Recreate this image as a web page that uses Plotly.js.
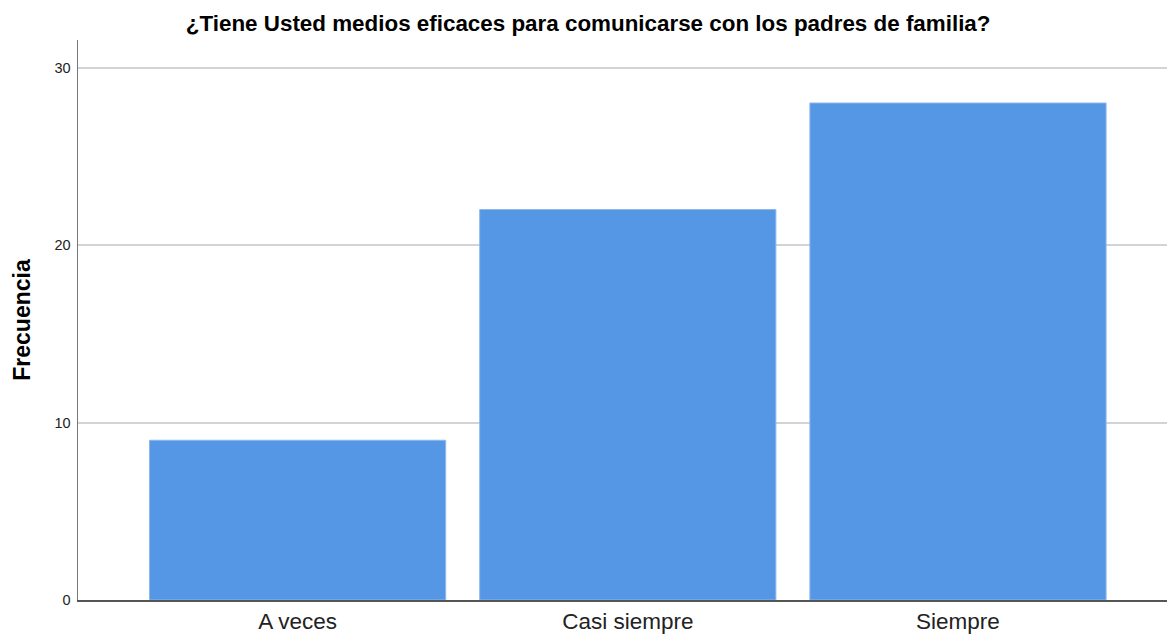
<!DOCTYPE html>
<html>
<head>
<meta charset="utf-8">
<script src="https://cdn.plot.ly/plotly-3.0.1.min.js"></script>
<style>html,body{margin:0;padding:0;background:#fff;}#chart{width:1167px;height:635px;}</style>
</head>
<body>
<div id="chart"></div>
<script>
const categories = ["A veces", "Casi siempre", "Siempre"];
const frecuencia = [9, 22, 28];
const yTicks = [0, 10, 20, 30];
const chartTitle = "¿Tiene Usted medios eficaces para comunicarse con los padres de familia?";
const yTitle = "Frecuencia";

const trace = {
  type: "bar",
  x: categories,
  y: frecuencia,
  marker: {color: "#5596E5", line: {color: "#8DB8EE", width: 1}},
  hoverinfo: "x+y"
};

const layout = {
  width: 1167,
  height: 635,
  margin: {l: 78, r: 0, t: 40, b: 35},
  paper_bgcolor: "#ffffff",
  plot_bgcolor: "#ffffff",
  bargap: 0.103,
  showlegend: false,
  title: {
    text: chartTitle,
    font: {family: "Liberation Sans, Arial, sans-serif", size: 22.4, color: "#000000", weight: "bold"},
    x: 0.504, xanchor: "center",
    y: 1 - 23/635, yanchor: "middle"
  },
  xaxis: {
    type: "category",
    range: [-0.665, 2.633],
    showgrid: false,
    showline: true,
    linecolor: "#555555",
    linewidth: 1.5,
    ticks: "",
    tickfont: {family: "Liberation Sans, Arial, sans-serif", size: 22.5, color: "#222222"},
    zeroline: false,
    fixedrange: true
  },
  yaxis: {
    range: [0, 31.55],
    tickvals: yTicks,
    ticktext: yTicks.map(String),
    showgrid: true,
    gridcolor: "#d3d3d3",
    gridwidth: 2,
    showline: true,
    linecolor: "#777777",
    linewidth: 1.5,
    zeroline: false,
    ticks: "",
    ticklabelstandoff: 3,
    tickfont: {family: "Liberation Sans, Arial, sans-serif", size: 14.5, color: "#222222"},
    title: {
      text: yTitle,
      font: {family: "Liberation Sans, Arial, sans-serif", size: 23, color: "#000000", weight: "bold"},
      standoff: 17
    },
    fixedrange: true
  }
};

Plotly.newPlot("chart", [trace], layout, {displayModeBar: false, staticPlot: true});
</script>
</body>
</html>
